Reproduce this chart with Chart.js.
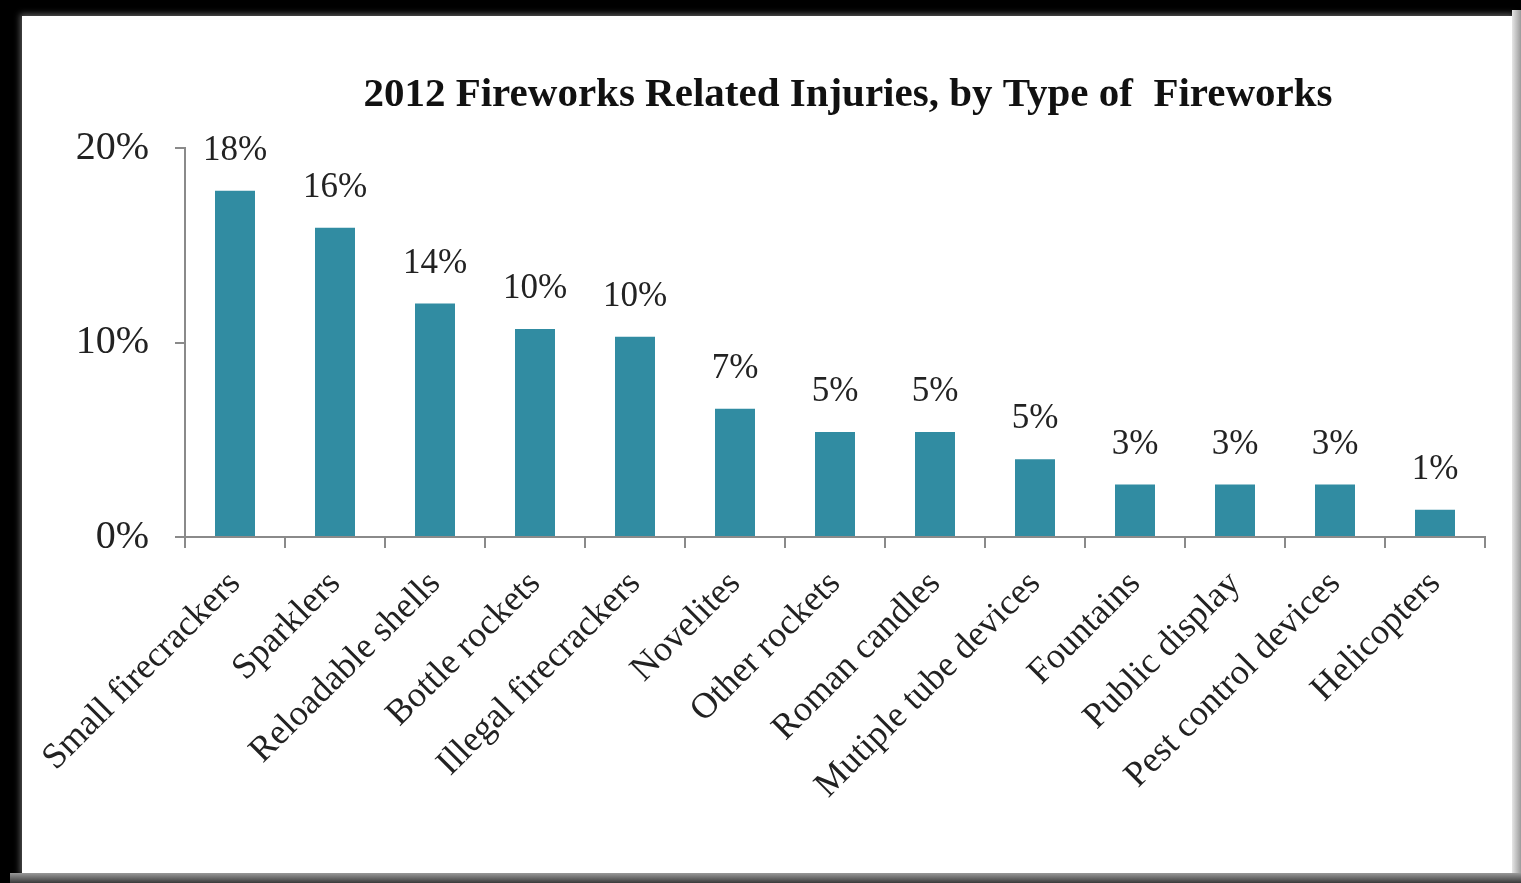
<!DOCTYPE html>
<html>
<head>
<meta charset="utf-8">
<script src="https://cdn.jsdelivr.net/npm/chart.js@4.4.1/dist/chart.umd.min.js"></script>
<style>
  html, body { margin: 0; padding: 0; background: #000; width: 1521px; height: 883px; overflow: hidden; }
  #panel { position: absolute; left: 22px; top: 16px; width: 1490px; height: 857px; background: #fff;
           box-shadow: 0 0 6px 2px rgba(255,255,255,0.35); }
  #rightStrip { position: absolute; left: 1512px; top: 10px; width: 9px; height: 873px;
           background: linear-gradient(to right, #e6e6e6, #9a9a9a); }
  #bottomStrip { position: absolute; left: 10px; top: 873px; width: 1511px; height: 10px;
           background: linear-gradient(to bottom, #9a9a9a, #3a3a3a); }
  canvas { position: absolute; left: 0; top: 0; }
</style>
</head>
<body>
<div id="panel"></div>
<div id="rightStrip"></div>
<div id="bottomStrip"></div>
<canvas id="c" width="1521" height="883"></canvas>
<script>
const titleText = "2012 Fireworks Related Injuries, by Type of  Fireworks";
const categories = ["Small firecrackers", "Sparklers", "Reloadable shells", "Bottle rockets",
  "Illegal firecrackers", "Novelites", "Other rockets", "Roman candles", "Mutiple tube devices",
  "Fountains", "Public display", "Pest control devices", "Helicopters"];
const barValues = [17.8, 15.9, 12.0, 10.7, 10.3, 6.6, 5.4, 5.4, 4.0, 2.7, 2.7, 2.7, 1.4];
const dataLabels = ["18%", "16%", "14%", "10%", "10%", "7%", "5%", "5%", "5%", "3%", "3%", "3%", "1%"];
const yTicks = [0, 10, 20];

const serif = "'Liberation Serif', 'Times New Roman', serif";
const textColor = "#222";
const axisColor = "#8a8a8a";

const labelPlugin = {
  id: 'barLabels',
  afterDatasetsDraw(chart) {
    const ctx = chart.ctx;
    const meta = chart.getDatasetMeta(0);
    ctx.save();
    ctx.font = "35px " + serif;
    ctx.fillStyle = textColor;
    ctx.textAlign = "center";
    ctx.textBaseline = "middle";
    meta.data.forEach((bar, i) => {
      ctx.fillText(dataLabels[i], bar.x, bar.y - 40);
    });
    ctx.restore();
  }
};

const titlePlugin = {
  id: 'customTitle',
  afterDraw(chart) {
    const ctx = chart.ctx;
    const a = chart.chartArea;
    ctx.save();
    ctx.font = "bold 41px " + serif;
    ctx.fillStyle = "#111";
    ctx.textAlign = "center";
    ctx.textBaseline = "middle";
    ctx.fillText(titleText, (a.left + a.right) / 2 + 13, a.top - 53);
    ctx.restore();
  }
};

new Chart(document.getElementById('c'), {
  type: 'bar',
  data: {
    labels: categories,
    datasets: [{
      data: barValues,
      backgroundColor: '#318ca2',
      borderWidth: 0,
      barPercentage: 0.8,
      categoryPercentage: 0.5
    }]
  },
  plugins: [labelPlugin, titlePlugin],
  options: {
    responsive: false,
    animation: false,
    devicePixelRatio: 1,
    layout: { padding: { top: 148, right: 36, left: 0, bottom: 0 } },
    plugins: {
      legend: { display: false },
      title: { display: false },
      tooltip: { enabled: false }
    },
    scales: {
      x: {
        afterFit(s) { s.height = 346; },
        grid: { display: true, drawOnChartArea: false, drawTicks: true, tickLength: 11, color: axisColor, lineWidth: 2, offset: true },
        border: { display: true, color: axisColor, width: 2 },
        ticks: {
          autoSkip: false, maxRotation: 45, minRotation: 45, padding: 15,
          color: textColor, font: { family: serif, size: 36 }
        }
      },
      y: {
        min: 0, max: 20,
        afterFit(s) { s.width = 185; },
        afterBuildTicks(s) { s.ticks = yTicks.map(v => ({ value: v })); },
        grid: { display: true, drawOnChartArea: false, drawTicks: true, tickLength: 10, color: axisColor, lineWidth: 2 },
        border: { display: true, color: axisColor, width: 2 },
        ticks: {
          padding: 26, color: textColor, font: { family: serif, size: 40 },
          callback: v => v + '%'
        }
      }
    }
  }
});
</script>
</body>
</html>
